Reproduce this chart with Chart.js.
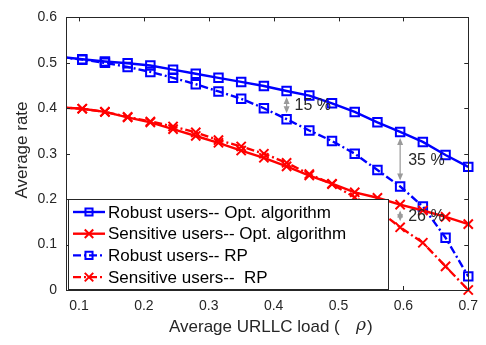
<!DOCTYPE html>
<html>
<head>
<meta charset="utf-8">
<script src="https://cdn.jsdelivr.net/npm/chart.js@4.4.1/dist/chart.umd.min.js"></script>
<style>
  html, body { margin: 0; padding: 0; background: #fff; }
  #wrap { width: 486px; height: 345px; }
</style>
</head>
<body>
<div id="wrap"><canvas id="rateChart" width="486" height="345"></canvas></div>
<script>
// --- data ---
const loads = [0.07, 0.105, 0.14, 0.175, 0.21, 0.245, 0.28, 0.315, 0.35, 0.385, 0.42, 0.455, 0.49, 0.525, 0.56, 0.595, 0.63, 0.665, 0.7];
const robustOpt = [0.513, 0.508, 0.503, 0.499, 0.494, 0.485, 0.476, 0.467, 0.458, 0.449, 0.438, 0.428, 0.411, 0.392, 0.369, 0.348, 0.326, 0.297, 0.271];
const sensitiveOpt = [0.402, 0.399, 0.392, 0.380, 0.369, 0.354, 0.339, 0.324, 0.307, 0.291, 0.272, 0.252, 0.234, 0.215, 0.203, 0.188, 0.175, 0.161, 0.145];
const robustRP = [0.513, 0.507, 0.500, 0.491, 0.480, 0.467, 0.453, 0.437, 0.421, 0.400, 0.376, 0.351, 0.328, 0.300, 0.264, 0.228, 0.184, 0.115, 0.030];
const sensitiveRP = [0.402, 0.399, 0.392, 0.381, 0.371, 0.360, 0.347, 0.330, 0.316, 0.300, 0.280, 0.255, 0.233, 0.204, 0.177, 0.138, 0.104, 0.052, 0.000];
const seriesNames = ['Robust users-- Opt. algorithm', 'Sensitive users-- Opt. algorithm', 'Robust users-- RP', 'Sensitive users--  RP'];
const xTicks = [0.1, 0.2, 0.3, 0.4, 0.5, 0.6, 0.7];
const yTicks = [0, 0.1, 0.2, 0.3, 0.4, 0.5, 0.6];
const yTickLabels = ['0', '0.1', '0.2', '0.3', '0.4', '0.5', '0.6'];
// gap notes: load value, upper series index, lower series index, text
const noteLoads = [0.42, 0.595, 0.595];
const noteUpper = [0, 0, 1];
const noteLower = [2, 2, 3];
const noteTexts = ['15 %', '35 %', '26 %'];

const FONT = '"Liberation Sans", Arial, sans-serif';
const AXIS = '#262626';
const dashDot = [8, 3, 2, 3];

const pts = arr => arr.map((v, i) => ({ x: loads[i], y: v }));
const mk = (label, arr, color, style, dash) => ({
    label, data: pts(arr), borderColor: color, backgroundColor: 'rgba(0,0,0,0)',
    borderWidth: 2.4, borderDash: dash, pointStyle: style,
    pointRadius: style === 'rect' ? 6 : 6.5, pointBorderWidth: 2,
    pointBorderColor: color, pointBackgroundColor: 'rgba(0,0,0,0)',
    tension: 0, clip: { left: 0, top: 10, right: 10, bottom: 10 }
});

const datasets = [
    mk(seriesNames[0], robustOpt, '#0000ff', 'rect', []),
    mk(seriesNames[1], sensitiveOpt, '#ff0000', 'crossRot', []),
    mk(seriesNames[2], robustRP, '#0000ff', 'rect', dashDot),
    mk(seriesNames[3], sensitiveRP, '#ff0000', 'crossRot', dashDot)
];

// box + inward ticks like the original plot
const framePlugin = {
    id: 'frame',
    afterDatasetsDraw(chart) {
        const { ctx, chartArea: a, scales: { x, y } } = chart;
        ctx.save();
        ctx.strokeStyle = AXIS; ctx.lineWidth = 1;
        ctx.strokeRect(Math.round(a.left) + 0.5, Math.round(a.top) + 0.5, Math.round(a.right - a.left), Math.round(a.bottom - a.top));
        ctx.beginPath();
        xTicks.forEach(t => {
            const px = Math.round(x.getPixelForValue(t)) + 0.5;
            ctx.moveTo(px, a.bottom); ctx.lineTo(px, a.bottom - 4);
            ctx.moveTo(px, a.top); ctx.lineTo(px, a.top + 4);
        });
        yTicks.forEach(t => {
            const py = Math.round(y.getPixelForValue(t)) + 0.5;
            ctx.moveTo(a.left, py); ctx.lineTo(a.left + 4, py);
            ctx.moveTo(a.right, py); ctx.lineTo(a.right - 4, py);
        });
        ctx.stroke();
        ctx.restore();
    }
};

// gray double arrows with percentage labels
const notePlugin = {
    id: 'notes',
    afterDatasetsDraw(chart) {
        const { ctx, scales: { x, y } } = chart;
        const all = [robustOpt, sensitiveOpt, robustRP, sensitiveRP];
        ctx.save();
        ctx.strokeStyle = '#9a9a9a'; ctx.fillStyle = '#9a9a9a'; ctx.lineWidth = 1.2;
        noteLoads.forEach((l, i) => {
            const idx = loads.indexOf(l);
            const px = x.getPixelForValue(l);
            const y1 = y.getPixelForValue(all[noteUpper[i]][idx]) + 6;
            const y2 = y.getPixelForValue(all[noteLower[i]][idx]) - 6;
            ctx.beginPath(); ctx.moveTo(px, y1 + 2); ctx.lineTo(px, y2 - 2); ctx.stroke();
            ctx.beginPath(); ctx.moveTo(px, y1); ctx.lineTo(px - 3, y1 + 7); ctx.lineTo(px + 3, y1 + 7); ctx.closePath(); ctx.fill();
            ctx.beginPath(); ctx.moveTo(px, y2); ctx.lineTo(px - 3, y2 - 7); ctx.lineTo(px + 3, y2 - 7); ctx.closePath(); ctx.fill();
            ctx.save();
            ctx.fillStyle = AXIS; ctx.font = '16px ' + FONT; ctx.textBaseline = 'middle'; ctx.textAlign = 'left';
            ctx.fillText(noteTexts[i], px + 8, (y1 + y2) / 2 + 1);
            ctx.restore();
        });
        ctx.restore();
    }
};

// matlab-style legend box in the lower left corner
const legendPlugin = {
    id: 'boxLegend',
    afterDraw(chart) {
        const { ctx, chartArea: a } = chart;
        const left = a.left + 2, top = a.bottom - 91, w = 320, h = 91;
        ctx.save();
        ctx.fillStyle = '#fff';
        ctx.fillRect(left, top, w, h);
        ctx.strokeStyle = AXIS; ctx.lineWidth = 1;
        ctx.strokeRect(Math.round(left) + 0.5, Math.round(top) + 0.5, w, h - 1);
        chart.data.datasets.forEach((ds, i) => {
            const cy = top + 13 + i * 21.7;
            ctx.strokeStyle = ds.borderColor; ctx.lineWidth = 2.4;
            ctx.setLineDash(ds.borderDash);
            ctx.beginPath(); ctx.moveTo(left + 5, cy); ctx.lineTo(left + 37, cy); ctx.stroke();
            ctx.setLineDash([]);
            ctx.fillStyle = 'rgba(0,0,0,0)'; ctx.lineWidth = 2;
            Chart.helpers.drawPoint(ctx, { pointStyle: ds.pointStyle, radius: ds.pointStyle === 'rect' ? 5 : 6, borderWidth: 2, rotation: 0 }, left + 21, cy);
            ctx.fillStyle = '#000'; ctx.font = '17px ' + FONT; ctx.textBaseline = 'middle'; ctx.textAlign = 'left';
            ctx.fillText(ds.label, left + 40, cy + 1);
        });
        ctx.restore();
    }
};

// axis titles drawn by hand (the rho is italic)
const titlePlugin = {
    id: 'titles',
    afterDraw(chart) {
        const { ctx } = chart;
        ctx.save();
        ctx.fillStyle = AXIS; ctx.textBaseline = 'middle';
        ctx.font = '17px ' + FONT; ctx.textAlign = 'left';
        ctx.fillText('Average URLLC load (', 169, 327);
        ctx.font = 'italic 17px "DejaVu Serif", serif';
        ctx.fillText('\u03c1', 356, 326);
        ctx.font = '17px ' + FONT;
        ctx.fillText(')', 367, 327);
        ctx.translate(22, 150); ctx.rotate(-Math.PI / 2);
        ctx.textAlign = 'center';
        ctx.fillText('Average rate', 0, 0);
        ctx.restore();
    }
};

new Chart(document.getElementById('rateChart').getContext('2d'), {
    type: 'line',
    data: { datasets },
    options: {
        responsive: false, animation: false, devicePixelRatio: 1,
        layout: { padding: { top: 9, right: 7, left: 0, bottom: 0 } },
        plugins: { legend: { display: false }, tooltip: { enabled: false } },
        scales: {
            x: {
                type: 'linear', min: 0.08, max: 0.7,
                afterBuildTicks: s => { s.ticks = xTicks.map(v => ({ value: v })); },
                afterFit: s => { s.height = 55; },
                grid: { display: false, drawTicks: false }, border: { display: false },
                ticks: { color: AXIS, font: { family: FONT, size: 14 }, padding: 8, maxRotation: 0,
                    callback: v => String(v) }
            },
            y: {
                min: 0, max: 0.6,
                afterBuildTicks: s => { s.ticks = yTicks.map(v => ({ value: v })); },
                afterFit: s => { s.width = 66; },
                grid: { display: false, drawTicks: false }, border: { display: false },
                ticks: { color: AXIS, font: { family: FONT, size: 14 }, padding: 9,
                    callback: (v) => yTickLabels[yTicks.indexOf(v)] ?? '' }
            }
        }
    },
    plugins: [framePlugin, notePlugin, legendPlugin, titlePlugin]
});
</script>
</body>
</html>
